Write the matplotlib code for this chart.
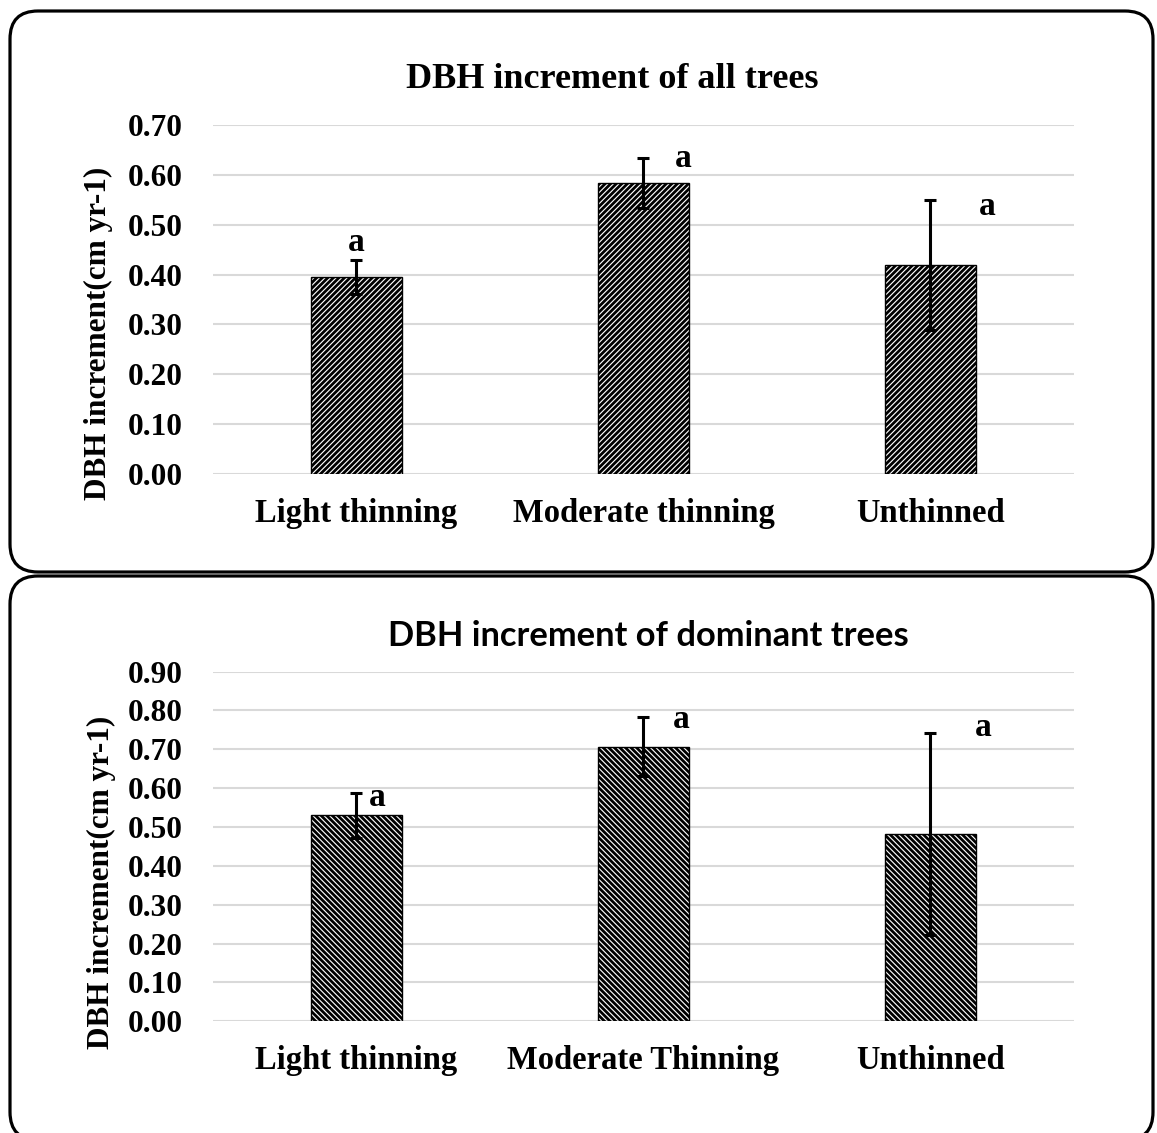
import matplotlib.pyplot as plt
from matplotlib.patches import FancyBboxPatch

# top panel: all trees
cats_all = ["Light thinning", "Moderate thinning", "Unthinned"]
mean_all = [0.395, 0.583, 0.419]
err_all = [0.034, 0.050, 0.131]
letters_all = ["a", "a", "a"]

# bottom panel: dominant trees
cats_dom = ["Light thinning", "Moderate Thinning", "Unthinned"]
mean_dom = [0.530, 0.707, 0.483]
err_dom = [0.057, 0.075, 0.260]
letters_dom = ["a", "a", "a"]

plt.rcParams['font.family'] = 'Liberation Serif'
plt.rcParams['font.weight'] = 'bold'
plt.rcParams['hatch.linewidth'] = 2.0

W, H = 1157, 1133
fig = plt.figure(figsize=(W / 100, H / 100), dpi=100)

# background axes in pixel units for the rounded frames and free text
bg = fig.add_axes([0, 0, 1, 1], zorder=0)
bg.set_xlim(0, W)
bg.set_ylim(H, 0)
bg.axis('off')

# top frame fully visible, bottom frame runs off the lower edge
# (white fill so agg does not clip the stroke into a stray line)
frames = [(10, 11, 1153, 572), (10, 576, 1153, 1140)]
for (x0, y0, x1, y1) in frames:
    bg.add_patch(FancyBboxPatch((x0, y0), x1 - x0, y1 - y0,
                                boxstyle="round,pad=0,rounding_size=28",
                                fc='white', lw=2.3, ec='black'))


def panel(rect, cats, means, errs, letters, ymax, hatch, letter_dx, letter_y):
    ax = fig.add_axes(rect, zorder=1)
    ax.patch.set_alpha(0)
    x = list(range(len(cats)))
    ax.bar(x, means, width=0.315, color='white', edgecolor='black',
           linewidth=1.0, hatch=hatch, zorder=2)
    ax.errorbar(x, means, yerr=errs, fmt='none', ecolor='black',
                elinewidth=2.2, capsize=4.5, capthick=2.2, zorder=3)
    for i, lab in enumerate(letters):
        ax.text(x[i] + letter_dx[i], letter_y[i], lab, ha='center', va='center',
                fontsize=24, fontweight='bold')
    ax.set_xlim(-0.5, len(cats) - 0.5)
    ax.set_ylim(0, ymax)
    ticks = [i / 10 for i in range(int(round(ymax * 10)) + 1)]
    ax.set_yticks(ticks, [f"{t:.2f}" for t in ticks])
    ax.set_xticks(x, cats)
    ax.grid(axis='y', color='#d9d9d9', lw=1.5)
    ax.set_axisbelow(True)
    for s in ax.spines.values():
        s.set_visible(False)
    ax.tick_params(axis='y', length=0, pad=22, labelsize=22.5)
    ax.tick_params(axis='x', length=0, pad=17, labelsize=23.5)
    return ax


panel([213 / W, 1 - 474.3 / H, 861 / W, 349.6 / H], cats_all, mean_all, err_all,
      letters_all, 0.70, '//////', [0, 0.138, 0.197], [0.465, 0.632, 0.536])
panel([213 / W, 1 - 1021.3 / H, 861 / W, 349.7 / H], cats_dom, mean_dom, err_dom,
      letters_dom, 0.90, '\\\\\\\\\\\\', [0.071, 0.13, 0.184], [0.577, 0.778, 0.755])

bg.text(612, 80, "DBH increment of all trees", ha='center', va='center', fontsize=26)
bg.text(648, 636, "DBH increment of dominant trees", ha='center', va='center',
        fontsize=24.8, family='Lato', fontweight='bold')
bg.text(98.5, 333, "DBH increment(cm yr-1)", rotation=90, ha='center', va='center',
        fontsize=22.5)
bg.text(101, 882, "DBH increment(cm yr-1)", rotation=90, ha='center', va='center',
        fontsize=22.5)

fig.savefig('out.png', dpi=100)
